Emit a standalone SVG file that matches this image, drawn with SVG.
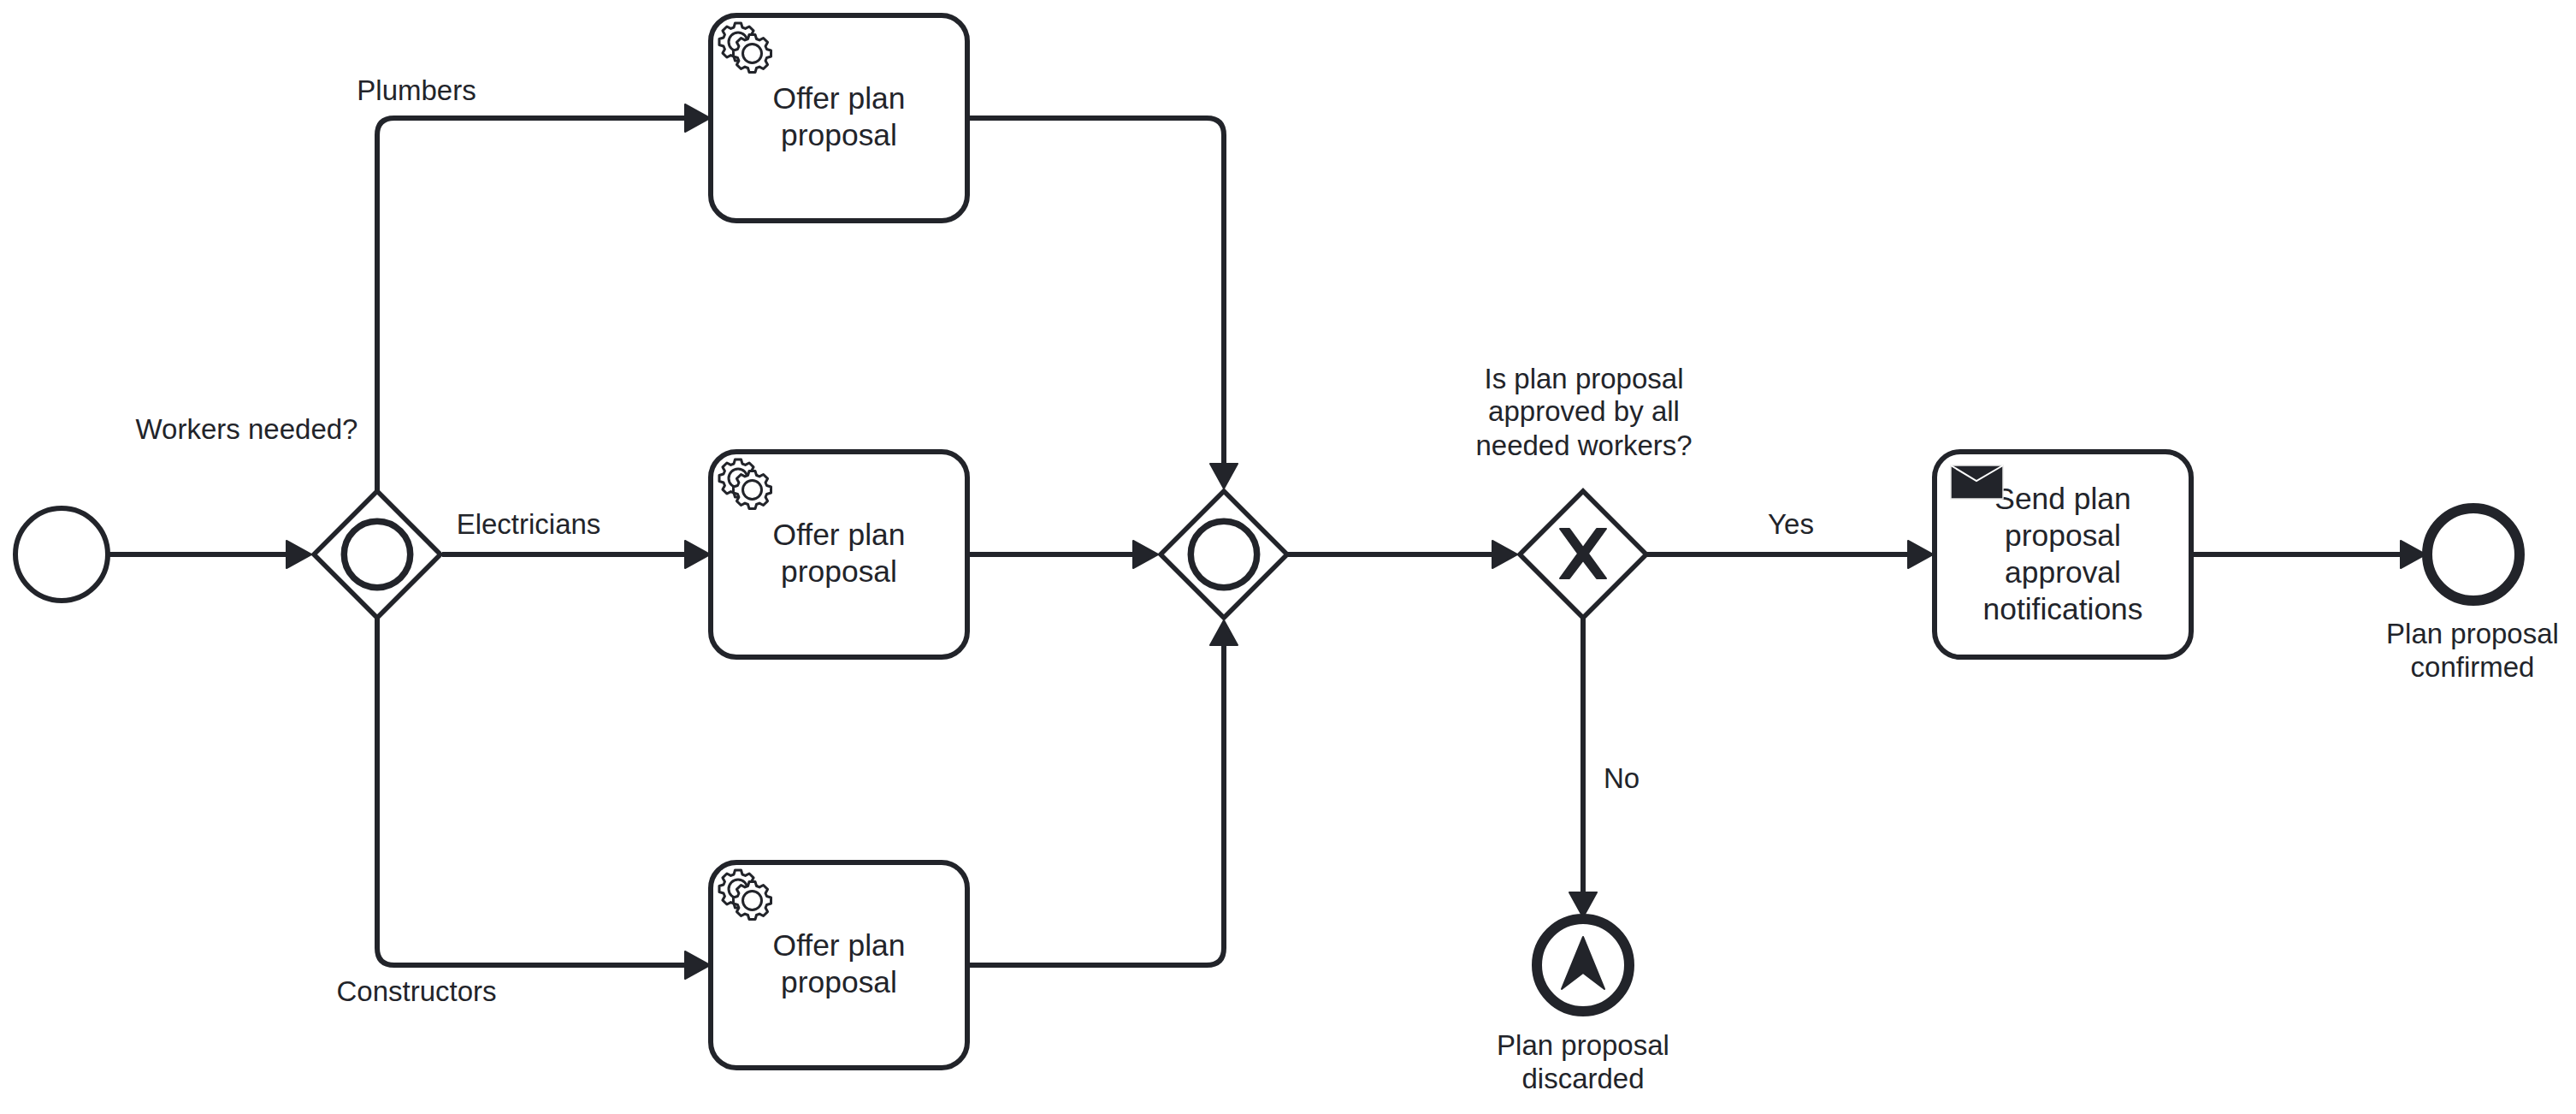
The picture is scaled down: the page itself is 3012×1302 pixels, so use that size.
<svg xmlns="http://www.w3.org/2000/svg" width="3012" height="1302" viewBox="0 0 3012 1302">
<style>
text{font-family:"Liberation Sans",Arial,sans-serif;fill:#22242a;text-anchor:middle}
.t{font-size:35.4px}
.l{font-size:33px}
.flow{fill:none;stroke:#22242a;stroke-width:6;marker-end:url(#arrow)}
.task{fill:#fff;stroke:#22242a;stroke-width:6}
.gw{fill:#fff;stroke:#22242a;stroke-width:5.5;stroke-linejoin:miter}
.ring{fill:none;stroke:#22242a;stroke-width:7.5}
.ev{fill:#fff;stroke:#22242a}
.dark{fill:#22242a;stroke:#22242a;stroke-width:2;stroke-linejoin:round}
.gear{fill:#fff;stroke:#22242a;stroke-width:3;stroke-linejoin:round}
</style>
<defs>
<marker id="arrow" markerUnits="userSpaceOnUse" markerWidth="34" markerHeight="36" viewBox="0 0 34 36" refX="2" refY="18" orient="auto">
<polygon points="2,2 2,34 31,18" fill="#22242a" stroke="#22242a" stroke-width="2" stroke-linejoin="round"/>
</marker>
<path id="gearShape" d="M-5,-17L-3.5,-22L3.5,-22L5,-17L8.49,-15.56L13.08,-18.03L18.03,-13.08L15.56,-8.49L17,-5L22,-3.5L22,3.5L17,5L15.56,8.49L18.03,13.08L13.08,18.03L8.49,15.56L5,17L3.5,22L-3.5,22L-5,17L-8.49,15.56L-13.08,18.03L-18.03,13.08L-15.56,8.49L-17,5L-22,3.5L-22,-3.5L-17,-5L-15.56,-8.49L-18.03,-13.08L-13.08,-18.03L-8.49,-15.56Z"/>
<g id="gears">
<use href="#gearShape" class="gear" x="32" y="31"/>
<circle cx="32" cy="31" r="11" class="gear"/>
<use href="#gearShape" class="gear" x="48.5" y="44.5"/>
<circle cx="48.5" cy="44.5" r="11" class="gear"/>
</g>
</defs>
<rect width="3012" height="1302" fill="#fff"/>
<g id="connectors">
<path class="flow" d="M126,648H335"/>
<path class="flow" d="M441,573V158Q441,138 461,138H801"/>
<path class="flow" d="M517,648H801"/>
<path class="flow" d="M441,723V1108Q441,1128 461,1128H801"/>
<path class="flow" d="M1131,138H1411Q1431,138 1431,158V542"/>
<path class="flow" d="M1131,648H1325"/>
<path class="flow" d="M1131,1128H1411Q1431,1128 1431,1108V754"/>
<path class="flow" d="M1505,648H1745"/>
<path class="flow" d="M1925,648H2231"/>
<path class="flow" d="M1851,723V1043"/>
<path class="flow" d="M2562,648H2807"/>
</g>
<g id="start"><circle class="ev" cx="72" cy="648" r="54" stroke-width="6"/></g>
<g id="split">
<polygon class="gw" points="441,574 515,648 441,722 367,648"/>
<circle class="ring" cx="441" cy="648" r="38.7"/>
</g>
<g id="task-plumbers">
<rect class="task" x="831" y="18" width="300" height="240" rx="30"/>
<use href="#gears" x="831" y="18"/>
<text class="t" x="981" y="127">Offer plan</text>
<text class="t" x="981" y="170">proposal</text>
</g>
<g id="task-electricians">
<rect class="task" x="831" y="528" width="300" height="240" rx="30"/>
<use href="#gears" x="831" y="528"/>
<text class="t" x="981" y="637">Offer plan</text>
<text class="t" x="981" y="680">proposal</text>
</g>
<g id="task-constructors">
<rect class="task" x="831" y="1008" width="300" height="240" rx="30"/>
<use href="#gears" x="831" y="1008"/>
<text class="t" x="981" y="1117">Offer plan</text>
<text class="t" x="981" y="1160">proposal</text>
</g>
<g id="join">
<polygon class="gw" points="1431,574 1505,648 1431,722 1357,648"/>
<circle class="ring" cx="1431" cy="648" r="38.7"/>
</g>
<g id="decision">
<polygon class="gw" points="1851,574 1925,648 1851,722 1777,648"/>
<polygon class="dark" points="1824,618 1835,618 1851,640 1867,618 1878,618 1857,647 1878,676 1867,676 1851,655 1835,676 1824,676 1845,647"/>
</g>
<g id="task-send">
<rect class="task" x="2262" y="528" width="300" height="240" rx="30"/>
<text class="t" x="2412" y="594.5">Send plan</text>
<text class="t" x="2412" y="637.5">proposal</text>
<text class="t" x="2412" y="680.5">approval</text>
<text class="t" x="2412" y="723.5">notifications</text>
<rect x="2281" y="544" width="61" height="39" fill="#22242a" stroke="#e8e8e8" stroke-width="1.5"/>
<path d="M2281,544L2311,562L2342,544" fill="none" stroke="#fff" stroke-width="2"/>
</g>
<g id="end-confirmed">
<circle class="ev" cx="2892" cy="648" r="54" stroke-width="12"/>
<text class="l" x="2891" y="752">Plan proposal</text>
<text class="l" x="2891" y="791">confirmed</text>
</g>
<g id="end-discarded">
<circle class="ev" cx="1851" cy="1128" r="54" stroke-width="12"/>
<polygon class="dark" points="1851,1095 1876,1156 1851,1137 1826,1156"/>
<text class="l" x="1851" y="1233">Plan proposal</text>
<text class="l" x="1851" y="1272">discarded</text>
</g>
<g id="labels">
<text class="l" x="487" y="117">Plumbers</text>
<text class="l" x="288.5" y="513">Workers needed?</text>
<text class="l" x="618" y="624">Electricians</text>
<text class="l" x="487" y="1170">Constructors</text>
<text class="l" x="1852" y="454">Is plan proposal</text>
<text class="l" x="1852" y="492">approved by all</text>
<text class="l" x="1852" y="532">needed workers?</text>
<text class="l" x="2094" y="624">Yes</text>
<text class="l" x="1896" y="921">No</text>
</g>
</svg>
